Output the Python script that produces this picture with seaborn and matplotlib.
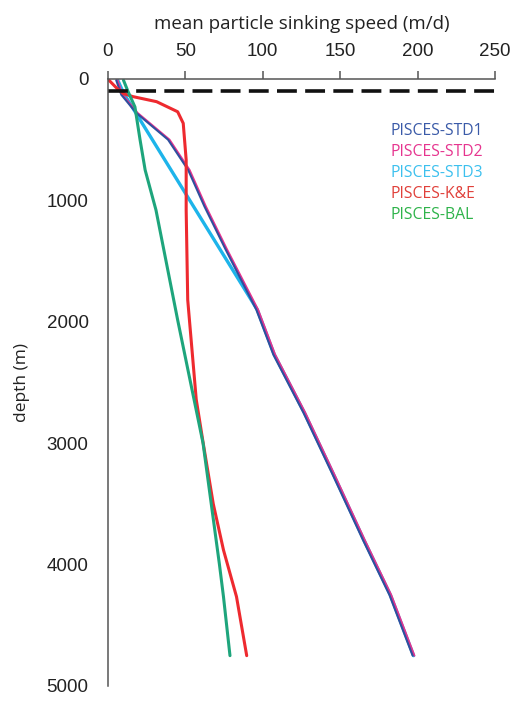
import matplotlib
matplotlib.use("Agg")
import matplotlib.pyplot as plt
import seaborn as sns

# depth (m) and mean sinking speed (m/d)
std1_depth = [10, 130, 280, 500, 750, 1050, 1400, 1900, 2270, 2750, 3250, 3800, 4250, 4750]
std1_speed = [5.3, 8.6, 18.3, 38.8, 51.8, 62.3, 75.8, 95.8, 106.8, 126.3, 144.8, 164.8, 181.8, 196.8]

std2_depth = [10, 130, 280, 500, 750, 1050, 1400, 1900, 2270, 2750, 3250, 3800, 4250, 4750]
std2_speed = [6.1, 9.4, 19.1, 39.7, 52.7, 63.2, 76.7, 96.9, 107.9, 127.4, 145.9, 165.9, 182.9, 197.9]

std3_depth = [10, 115, 1900, 2270, 2750, 3250, 3800, 4250, 4750]
std3_speed = [6.3, 10.0, 96.4, 107.4, 126.9, 145.4, 165.4, 182.4, 197.4]

ke_depth = [10, 75, 120, 145, 187, 270, 365, 667, 1080, 1820, 2640, 3000, 3500, 3880, 4264, 4750]
ke_speed = [0.6, 5.6, 9.9, 16.0, 31.4, 45.0, 48.6, 50.5, 50.5, 51.5, 57.0, 61.5, 68.0, 74.6, 83.0, 89.6]

bal_depth = [10, 105, 230, 500, 750, 1080, 1985, 3000, 4000, 4265, 4750]
bal_speed = [10.0, 13.0, 17.4, 20.7, 24.0, 31.0, 45.0, 61.4, 72.0, 74.6, 78.8]

labels = ["PISCES-STD1", "PISCES-STD2", "PISCES-STD3", "PISCES-K&E", "PISCES-BAL"]
line_colors = ["#2f4f9e", "#e6338e", "#1db4ea", "#ee2a2f", "#1ea57c"]
text_colors = ["#3a5aa8", "#e6358f", "#3cc0ee", "#e0403a", "#2eb34a"]
euphotic_depth = 100

sns.set_style("white")
plt.rcParams["font.family"] = ["Liberation Sans", "DejaVu Sans"]

fig = plt.figure(figsize=(5.15, 7.02), dpi=100)
ax = fig.add_axes([0.2097, 0.0228, 0.7515, 0.8647])

# draw order: STD3 underneath, then STD2 and STD1, then K&E and BAL
sns.lineplot(x=std3_speed, y=std3_depth, sort=False, estimator=None,
             color=line_colors[2], linewidth=2.4, ax=ax)
sns.lineplot(x=std2_speed, y=std2_depth, sort=False, estimator=None,
             color=line_colors[1], linewidth=1.5, ax=ax)
sns.lineplot(x=std1_speed, y=std1_depth, sort=False, estimator=None,
             color=line_colors[0], linewidth=1.5, ax=ax)
sns.lineplot(x=ke_speed, y=ke_depth, sort=False, estimator=None,
             color=line_colors[3], linewidth=2.2, ax=ax)
sns.lineplot(x=bal_speed, y=bal_depth, sort=False, estimator=None,
             color=line_colors[4], linewidth=2.2, ax=ax)

ax.axhline(euphotic_depth, color="#111111", linewidth=2.6, dashes=(5.5, 2.3))

ax.set_xlim(0, 250)
ax.set_ylim(5000, 0)
ax.set_xticks([0, 50, 100, 150, 200, 250])
ax.set_yticks([0, 1000, 2000, 3000, 4000, 5000])

ax.xaxis.tick_top()
ax.xaxis.set_label_position("top")
for side in ["right", "bottom"]:
    ax.spines[side].set_visible(False)
for side in ["left", "top"]:
    ax.spines[side].set_color("#555555")
    ax.spines[side].set_linewidth(1.1)
ax.tick_params(axis="both", direction="out", length=6, width=1.1, color="#555555",
               labelsize=13.5, labelcolor="#222222", pad=8)

ax.set_xlabel("mean particle sinking speed (m/d)", fontsize=13.5, family="Open Sans",
              color="#222222", labelpad=10)
ax.set_ylabel("depth (m)", fontsize=12.5, family="Open Sans", color="#222222", labelpad=12)

for k, (lab, c) in enumerate(zip(labels, text_colors)):
    ax.text(0.7287, 0.915 - k * 0.0346, lab, transform=ax.transAxes, color=c,
            fontsize=11.3, family="Open Sans", va="center", ha="left")

fig.savefig("out.png", dpi=100)
